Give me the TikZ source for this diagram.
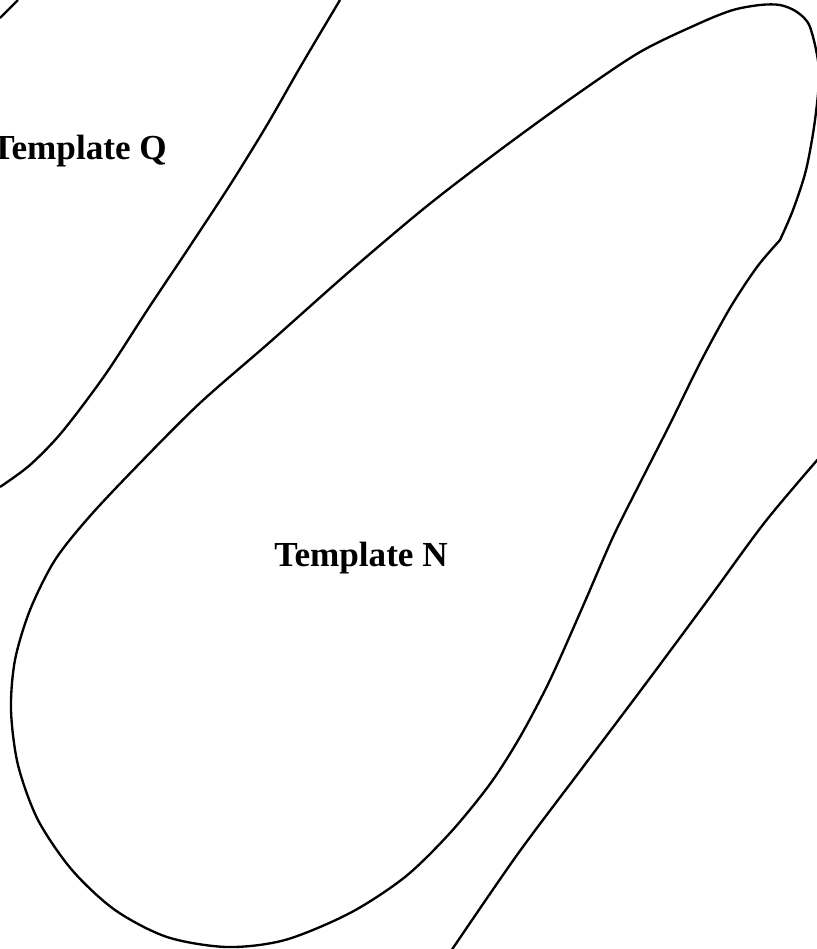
\documentclass[tikz,border=0pt]{standalone}
\usepackage{fontspec}
\setmainfont{Liberation Serif}
\usepackage{tikz}

\begin{document}
\begin{tikzpicture}[x=0.03cm,y=-0.03cm,
      region/.style={draw=black,line width=2pt,line join=round},
      lbl/.style={inner sep=0pt,font=\fontsize{30}{36}\selectfont\bfseries}]
    \useasboundingbox (0,0) rectangle (817,949);
    \draw[region] (0,18) -- (18,0);
    \draw[region] plot[smooth,tension=0.5] coordinates {(340,0) (302,64) (267,125) (230,185) (190,246) (148,309) (105,375) (62,432) (30,465) (0,487)};
    \draw[region] plot[smooth,tension=0.5] coordinates {(780,240) (793,210) (806,170) (815,120) (819,70) (810,27) (797,12) (780,5) (760,5) (733,10) (700,23) (640,52) (573,97) (500,150) (427,206) (350,271) (270,342) (200,403) (140,463) (90,516) (55,560) (30,610) (15,660) (11,710) (18,765) (38,820) (72,870) (115,910) (167,937) (227,947) (285,940) (350,913) (405,877) (450,833) (490,784) (520,737) (550,680) (583,606) (613,537) (640,483) (670,424) (700,363) (730,308) (757,267) (780,240)};
    \draw[region] plot[smooth,tension=0.5] coordinates {(819,458) (765,522) (710,597) (647,682) (583,767) (517,855) (451,951)};
    \node[lbl,anchor=base east] (tq) at (167,159) {Template Q};
    \node[lbl,anchor=base] (tn) at (361,566) {Template N};
  \end{tikzpicture}
\end{document}
